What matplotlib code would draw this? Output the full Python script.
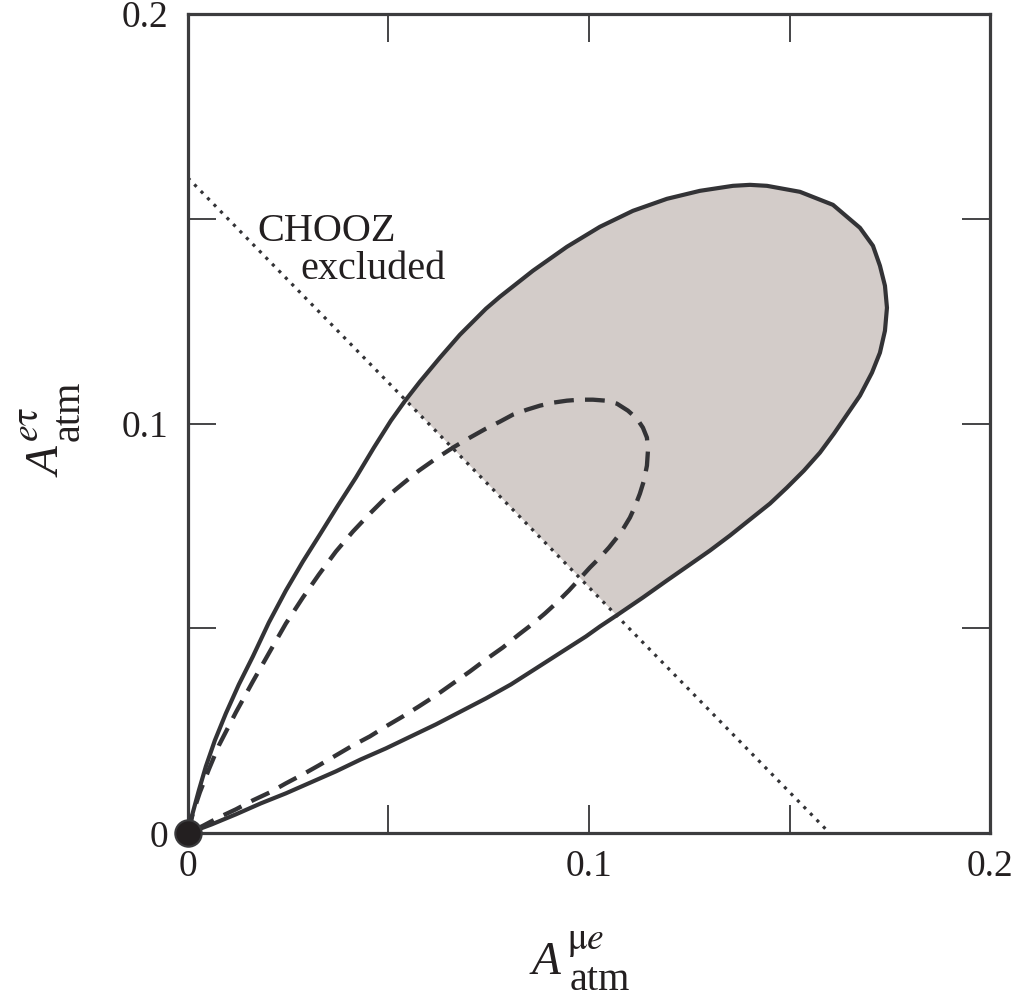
import matplotlib
matplotlib.use("Agg")
import matplotlib.pyplot as plt
from matplotlib.patches import Polygon

plt.rcParams['font.family'] = ['Liberation Serif', 'DejaVu Serif']
plt.rcParams['mathtext.fontset'] = 'stix'

# Outer (solid) contour: origin -> upper branch -> tip -> lower branch -> origin
outer_x = [0.0, 0.00125, 0.00274, 0.00449, 0.00673, 0.00947, 0.01271, 0.01620, 0.02019, 0.02443,
           0.02866, 0.03290, 0.03739, 0.04187, 0.04636, 0.05060, 0.05434, 0.05783, 0.06281, 0.06780,
           0.07428, 0.07777, 0.08599, 0.09447, 0.10269, 0.11092, 0.11939, 0.12762, 0.13584, 0.14008,
           0.14432, 0.15254, 0.16077, 0.16750, 0.17074, 0.17248, 0.17373, 0.17423, 0.17373, 0.17248,
           0.17049, 0.16750, 0.16426, 0.16102, 0.15753, 0.15354, 0.14930, 0.14507, 0.14008, 0.13509,
           0.13011, 0.12512, 0.11939, 0.11341, 0.10718, 0.10269, 0.09920, 0.09297, 0.08674, 0.08051,
           0.07428, 0.06805, 0.06182, 0.05558, 0.04935, 0.04312, 0.03689, 0.03066, 0.02443, 0.01820,
           0.01196, 0.00598, 0.0]
outer_y = [0.0, 0.00512, 0.01049, 0.01634, 0.02268, 0.02927, 0.03634, 0.04317, 0.05146, 0.05927,
           0.06634, 0.07293, 0.08000, 0.08683, 0.09415, 0.10073, 0.10585, 0.11024, 0.11610, 0.12171,
           0.12805, 0.13098, 0.13732, 0.14317, 0.14805, 0.15195, 0.15488, 0.15683, 0.15805, 0.15829,
           0.15805, 0.15659, 0.15341, 0.14780, 0.14341, 0.13854, 0.13366, 0.12829, 0.12268, 0.11732,
           0.11244, 0.10683, 0.10220, 0.09756, 0.09293, 0.08854, 0.08439, 0.08049, 0.07659, 0.07268,
           0.06902, 0.06561, 0.06171, 0.05756, 0.05341, 0.05049, 0.04805, 0.04415, 0.04024, 0.03634,
           0.03293, 0.02976, 0.02659, 0.02366, 0.02073, 0.01805, 0.01512, 0.01244, 0.00976, 0.00732,
           0.00463, 0.00220, 0.0]

# Inner (dashed) contour
inner_x = [0.0, 0.00125, 0.00299, 0.00523, 0.00773, 0.01196, 0.01620, 0.02044, 0.02443, 0.02866,
           0.03265, 0.03689, 0.04113, 0.04536, 0.04935, 0.05359, 0.05758, 0.06182, 0.06605, 0.07029,
           0.07428, 0.07777, 0.08101, 0.08450, 0.08774, 0.09098, 0.09447, 0.09771, 0.10095, 0.10419,
           0.10693, 0.10967, 0.11191, 0.11341, 0.11441, 0.11466, 0.11441, 0.11366, 0.11266, 0.11142,
           0.11017, 0.10867, 0.10693, 0.10494, 0.10269, 0.10020, 0.09771, 0.09497, 0.09197, 0.08898,
           0.08574, 0.08250, 0.07851, 0.07428, 0.07029, 0.06605, 0.06182, 0.05758, 0.05359, 0.04935,
           0.04536, 0.04113, 0.03689, 0.03265, 0.02866, 0.02443, 0.02044, 0.01620, 0.01196, 0.00773,
           0.00399, 0.0]
inner_y = [0.0, 0.00488, 0.01000, 0.01561, 0.02146, 0.02951, 0.03707, 0.04439, 0.05122, 0.05756,
           0.06317, 0.06878, 0.07366, 0.07805, 0.08195, 0.08537, 0.08854, 0.09146, 0.09415, 0.09659,
           0.09878, 0.10049, 0.10220, 0.10341, 0.10439, 0.10512, 0.10561, 0.10585, 0.10585, 0.10561,
           0.10488, 0.10317, 0.10122, 0.09902, 0.09659, 0.09341, 0.08976, 0.08610, 0.08293, 0.07976,
           0.07707, 0.07463, 0.07220, 0.06976, 0.06732, 0.06488, 0.06220, 0.05927, 0.05634, 0.05366,
           0.05098, 0.04854, 0.04537, 0.04244, 0.03951, 0.03659, 0.03366, 0.03098, 0.02854, 0.02610,
           0.02366, 0.02146, 0.01902, 0.01659, 0.01439, 0.01220, 0.01000, 0.00805, 0.00585, 0.00390,
           0.00195, 0.0]

# CHOOZ bound: x + y = 0.16
chooz_x = [0.0, 0.16]
chooz_y = [0.16, 0.0]

ticks_major = [0.0, 0.1, 0.2]
tick_labels = ['0', '0.1', '0.2']
ticks_minor = [0.05, 0.15]

line_col = '#333336'
fill_col = '#d3ccc9'
text_col = '#231f20'

W, H = 1021, 998
fig = plt.figure(figsize=(W / 100, H / 100), dpi=100)
ax = fig.add_axes([0.184, 0.165, 0.786, 0.821])
ax.set_xlim(0, 0.2)
ax.set_ylim(0, 0.2)

# shaded part: inside outer contour, beyond the CHOOZ line
fill = ax.fill(outer_x, outer_y, color=fill_col, lw=0, zorder=1)[0]
clip = Polygon([(chooz_x[1], 0.0), (0.3, 0.0), (0.3, 0.3), (0.0, 0.3), (0.0, chooz_y[0])],
               closed=True, transform=ax.transData)
fill.set_clip_path(clip)

ax.plot(chooz_x, chooz_y, color=line_col, lw=2.3, linestyle=(0, (1.0, 1.9)), zorder=2)
ax.plot(inner_x, inner_y, color=line_col, lw=3.1, linestyle=(0, (4.6, 2.6)), zorder=3,
        dash_joinstyle='round')
ax.plot(outer_x, outer_y, color=line_col, lw=3.0, zorder=4, solid_joinstyle='round')
ax.plot([0], [0], 'o', ms=19, color=text_col, mec='#3a3a3c', mew=1.5, clip_on=False, zorder=5)

ax.set_xticks(ticks_major)
ax.set_xticklabels(tick_labels)
ax.set_yticks(ticks_major)
ax.set_yticklabels(tick_labels)
ax.set_xticks(ticks_minor, minor=True)
ax.set_yticks(ticks_minor, minor=True)
ax.tick_params(which='both', direction='in', top=True, right=True, length=20, width=1.4,
               color='#444446', labelsize=27, labelcolor=text_col)
ax.tick_params(axis='x', which='major', pad=12)
ax.tick_params(axis='y', which='major', pad=14)

for s in ax.spines.values():
    s.set_linewidth(2.3)
    s.set_color('#3c3c3e')

ax.text(0.0172, 0.1446, 'CHOOZ', fontsize=29, color=text_col, ha='left', va='baseline')
ax.text(0.0281, 0.1354, 'excluded', fontsize=29, color=text_col, ha='left', va='baseline')

# axis labels built from pieces (large sub/superscripts as in the original)
def fx(px):
    return px / W

def fy(py):
    return 1 - py / H

main_fs, sup_fs, sub_fs = 34, 27, 29
# x label: A^{mu e}_{atm}
fig.text(fx(532), fy(974), 'A', fontsize=main_fs, style='italic', color=text_col,
         ha='left', va='baseline')
fig.text(fx(567), fy(949), r'$\mathrm{\mu}e$', fontsize=sup_fs, color=text_col,
         ha='left', va='baseline')
fig.text(fx(570), fy(990), 'atm', fontsize=sub_fs, color=text_col, ha='left', va='baseline')
# y label: A^{e tau}_{atm}, rotated
fig.text(fx(61), fy(477), 'A', fontsize=main_fs, style='italic', color=text_col,
         ha='left', va='baseline', rotation=90, rotation_mode='anchor')
fig.text(fx(38), fy(442), r'$e\mathrm{\tau}$', fontsize=sup_fs, color=text_col,
         ha='left', va='baseline', rotation=90, rotation_mode='anchor')
fig.text(fx(79), fy(441), 'atm', fontsize=sub_fs, color=text_col,
         ha='left', va='baseline', rotation=90, rotation_mode='anchor')

fig.savefig('out.png', dpi=100)
